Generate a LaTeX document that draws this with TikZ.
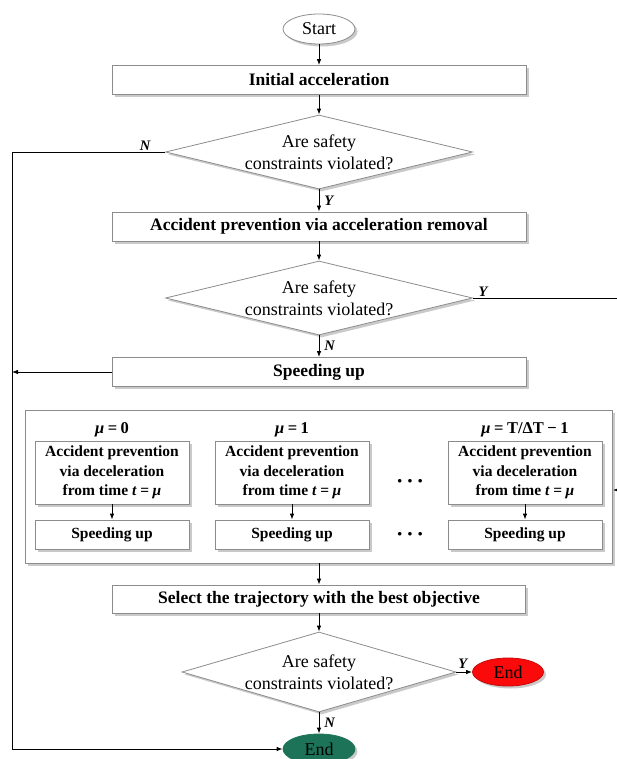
\documentclass[tikz,border=0pt]{standalone}
\usepackage{fontspec}
\setmainfont{Liberation Serif}
\usetikzlibrary{shapes.geometric,arrows.meta,shadows}

\definecolor{boxgray}{RGB}{140,140,140}
\definecolor{endgreen}{RGB}{28,115,88}
\definecolor{endred}{RGB}{250,10,10}

\newcommand{\muvar}{\textit{μ}}
\newcommand{\tvar}{\textit{t}}
\newcommand{\eqsign}{\hspace{3.5pt}=\hspace{3.5pt}}

\begin{document}
\begin{tikzpicture}[x=1pt, y=1pt, line width=0.8pt, >={Latex[length=6pt,width=4.5pt]}]
    \tikzstyle{shade}=[drop shadow={shadow xshift=2.5pt, shadow yshift=-2.5pt, opacity=0.42}];
    \tikzstyle{process}=[draw=boxgray, rectangle, fill=white, shade, minimum width=414pt, minimum height=29pt, font=\fontsize{17.5}{21}\selectfont\bfseries];
    \tikzstyle{decision}=[draw=boxgray, diamond, fill=white, shade, inner sep=0pt, minimum width=307pt, minimum height=74pt];
    \tikzstyle{question}=[align=center, font=\fontsize{18}{22}\selectfont];
    \tikzstyle{terminal}=[ellipse, shade, minimum width=72pt, minimum height=30pt, font=\fontsize{18}{22}\selectfont];
    \tikzstyle{trial}=[draw=boxgray, rectangle, fill=white, shade, minimum width=154pt, minimum height=29pt, align=center, font=\fontsize{15.5}{19.5}\selectfont\bfseries];
    \tikzstyle{mulabel}=[font=\fontsize{16.5}{19}\selectfont\bfseries];
    \tikzstyle{yn}=[inner sep=1pt, font=\fontsize{14.5}{16}\selectfont\bfseries\itshape];

    \useasboundingbox (0,0) rectangle (617,-759);

    % main chain
    \node[terminal, draw=boxgray, fill=white] (start) at (319,-29) {Start};
    \node[process, below of=start, node distance=51pt] (init) {Initial acceleration};
    \node[decision, below of=init, node distance=72pt] (dec1) {};
    \node[question] (q1) at (dec1) {Are safety\\constraints violated?};
    \node[process, below of=dec1, node distance=74.5pt] (remove) {Accident prevention via acceleration removal};
    \node[decision, below of=remove, node distance=71.5pt] (dec2) {};
    \node[question] (q2) at (dec2) {Are safety\\constraints violated?};
    \node[process, below of=dec2, node distance=74pt] (speed) {Speeding up};

    % trials for every start time
    \node[draw=boxgray, rectangle, fill=white, shade, minimum width=587pt, minimum height=153pt, below of=speed, node distance=114.5pt] (trials) {};
    \node[trial, minimum height=63pt] (prev0) at (112,-472.5) {Accident prevention\\via deceleration\\from time \tvar\eqsign\muvar};
    \node[trial, minimum height=63pt, right of=prev0, node distance=180pt] (prev1) {Accident prevention\\via deceleration\\from time \tvar\eqsign\muvar};
    \node[trial, minimum height=63pt, right of=prev1, node distance=233pt] (prevN) {Accident prevention\\via deceleration\\from time \tvar\eqsign\muvar};
    \node[trial, below of=prev0, node distance=62pt] (speed0) {Speeding up};
    \node[trial, below of=prev1, node distance=62pt] (speed1) {Speeding up};
    \node[trial, below of=prevN, node distance=62pt] (speedN) {Speeding up};
    \node[mulabel, above of=prev0, node distance=42.5pt] (mu0) {\muvar\eqsign0};
    \node[mulabel, above of=prev1, node distance=42.5pt] (mu1) {\muvar\eqsign1};
    \node[mulabel, above of=prevN, node distance=42.5pt] (muN) {\muvar\eqsign T/ΔT\hspace{3.5pt}−\hspace{3.5pt}1};
    \node[font=\fontsize{22}{22}\selectfont\bfseries] (dotsa) at (410,-484) {·\hspace{3pt}·\hspace{3pt}·};
    \node[font=\fontsize{22}{22}\selectfont\bfseries] (dotsb) at (410,-537) {·\hspace{3pt}·\hspace{3pt}·};

    \node[process, minimum width=413pt, minimum height=28pt, below of=trials, node distance=112.5pt] (select) {Select the trajectory with the best objective};
    \node[decision, minimum width=274pt, minimum height=80pt, below of=select, node distance=73pt] (dec3) {};
    \node[question] (q3) at (dec3) {Are safety\\constraints violated?};
    \node[terminal, minimum width=71pt, minimum height=28pt, draw=endred!80!black, fill=endred, right of=dec3, node distance=189pt] (endr) {End};
    \node[terminal, draw=endgreen, fill=endgreen, below of=dec3, node distance=77pt] (endg) {End};

    \coordinate (leftx) at (12,-152);
    \coordinate (rtop) at (617,-298);
    \coordinate (rin) at (617,-490);

    % connectors
    \draw[->] (start) -- (init);
    \draw[->] (init) -- (dec1);
    \draw[->] (dec1) -- node[yn, right=4pt] {Y} (remove);
    \draw[->] (remove) -- (dec2);
    \draw[->] (dec2) -- node[yn, right=4pt] {N} (speed);
    \draw (dec2.east) -- node[yn, pos=0.07, above] {Y} (rtop);
    \draw (dec1.west) -- node[yn, pos=0.13, above] {N} (leftx);
    \draw[->] (leftx) |- (endg);
    \draw[->] (speed) -- (speed -| leftx);
    \draw[->] (rin) -- (rin -| trials.east);
    \foreach \i in {0,1,N}
        \draw[->] (prev\i) -- (speed\i);
    \draw[->] (trials) -- (select);
    \draw[->] (select) -- (dec3);
    \draw[->] (dec3) -- node[yn, pos=0.4, above=2pt] {Y} (endr);
    \draw[->] (dec3) -- node[yn, right=4pt] {N} (endg);
\end{tikzpicture}
\end{document}
